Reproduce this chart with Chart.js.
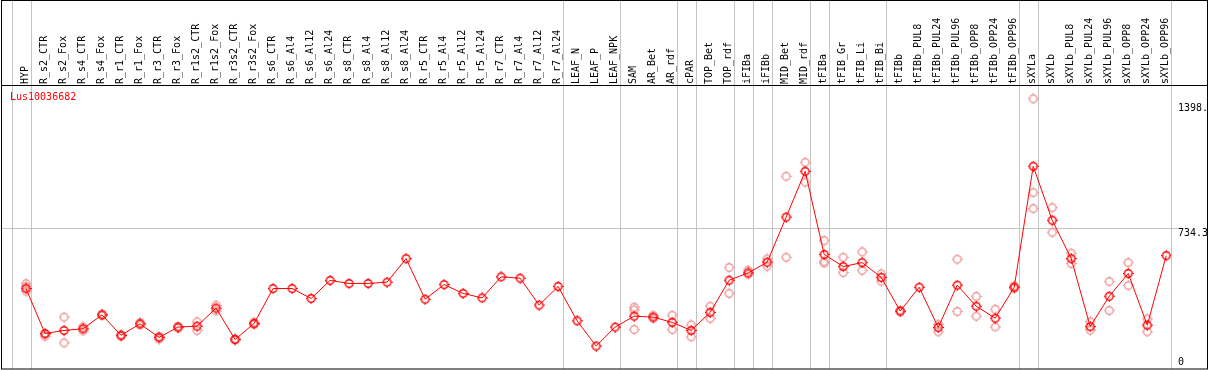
<!DOCTYPE html>
<html>
<head>
<meta charset="utf-8">
<script src="https://cdn.jsdelivr.net/npm/chart.js@4/dist/chart.umd.min.js"></script>
<style>
  html, body { margin: 0; padding: 0; background: #fff; }
</style>
</head>
<body>
<canvas id="expr" width="1209" height="370"></canvas>
<script>
// datos
const geneName = 'Lus10036682';

const samples = [
  'HYP',
  'R_s2_CTR', 'R_s2_Fox', 'R_s4_CTR', 'R_s4_Fox', 'R_r1_CTR', 'R_r1_Fox', 'R_r3_CTR', 'R_r3_Fox',
  'R_r1s2_CTR', 'R_r1s2_Fox', 'R_r3s2_CTR', 'R_r3s2_Fox',
  'R_s6_CTR', 'R_s6_Al4', 'R_s6_Al12', 'R_s6_Al24', 'R_s8_CTR', 'R_s8_Al4', 'R_s8_Al12', 'R_s8_Al24',
  'R_r5_CTR', 'R_r5_Al4', 'R_r5_Al12', 'R_r5_Al24', 'R_r7_CTR', 'R_r7_Al4', 'R_r7_Al12', 'R_r7_Al24',
  'LEAF_N', 'LEAF_P', 'LEAF_NPK',
  'SAM', 'AR_Bet', 'AR_rdf', 'cPAR', 'TOP_Bet', 'TOP_rdf', 'iFIBa', 'iFIBb', 'MID_Bet', 'MID_rdf',
  'tFIBa', 'tFIB_Gr', 'tFIB_Li', 'tFIB_Bi',
  'tFIBb', 'tFIBb_PUL8', 'tFIBb_PUL24', 'tFIBb_PUL96', 'tFIBb_OPP8', 'tFIBb_OPP24', 'tFIBb_OPP96',
  'sXYLa',
  'sXYLb', 'sXYLb_PUL8', 'sXYLb_PUL24', 'sXYLb_PUL96', 'sXYLb_OPP8', 'sXYLb_OPP24', 'sXYLb_OPP96'
];

// media de cada muestra
const meanValues = [
  414,
  175, 191, 200, 274, 165, 226, 154, 209,
  214, 310, 143, 228,
  414, 414, 361, 457, 441, 441, 448, 573,
  357, 435, 388, 364, 476, 469, 326, 425,
  242, 108, 209,
  267, 262, 234, 191, 287, 458, 497, 554, 794, 1037,
  595, 531, 552, 473,
  294, 421, 207, 432, 320, 256, 421,
  1064,
  777, 573, 212, 373, 494, 219, 589
];

// réplicas (círculos rosados)
const replicateValues = [
  [440, 425, 400],
  [170, 160], [262, 125], [210, 189], [278, 270], [168, 160], [232, 220], [160, 145], [212, 204],
  [237, 191], [325, 295], [146, 140], [235, 222],
  [], [], [], [], [], [], [], [],
  [], [], [], [], [], [], [], [],
  [], [], [],
  [315, 300, 196], [272, 255], [272, 196], [221, 157], [320, 255], [526, 388], [511, 490], [571, 533], [1011, 580], [1085, 980],
  [669, 556, 550], [580, 499], [609, 510], [492, 453],
  [298, 290], [], [223, 184], [570, 292], [372, 267], [304, 210], [428, 415],
  [1423, 924, 839],
  [844, 713], [602, 547], [237, 193], [451, 297], [552, 430], [253, 184], []
];

// última muestra de cada grupo (líneas grises verticales)
const groupEnds = ['HYP', 'R_r7_Al24', 'LEAF_NPK', 'AR_rdf', 'cPAR', 'TOP_rdf', 'iFIBa', 'iFIBb',
  'MID_rdf', 'tFIBa', 'tFIB_Bi', 'tFIBb_OPP96', 'sXYLa', 'sXYLb_OPP96'];

const yTicks = [0, 734.3, 1398];
const yTickLabels = ['0', '734.3', '1398.'];

const FONT = { family: 'DejaVu Sans Mono', size: 10 };
const GRID = '#c4c4c4';

const meanPoints = meanValues.map((v, i) => ({ x: i, y: v }));
const repPoints = [];
replicateValues.forEach((reps, i) => reps.forEach(v => repPoints.push({ x: i, y: v })));

const separators = [-0.75].concat(groupEnds.map(n => samples.indexOf(n) + 0.25));

// marcador: círculo con pequeñas muescas
function marker(color) {
  const c = document.createElement('canvas');
  c.width = 11; c.height = 11;
  const g = c.getContext('2d');
  g.strokeStyle = color;
  g.fillStyle = color;
  g.lineWidth = 1.4;
  g.beginPath(); g.arc(5.5, 5.5, 3.8, 0, Math.PI * 2); g.stroke();
  g.fillRect(5, 0, 1, 1);
  g.fillRect(5, 10, 1, 1);
  g.fillRect(0, 5, 1, 1);
  g.fillRect(10, 5, 1, 1);
  return c;
}

const framePlugin = {
  id: 'frame',
  beforeDatasetsDraw(chart) {
    const { ctx, chartArea, scales } = chart;
    ctx.save();
    ctx.strokeStyle = GRID;
    ctx.lineWidth = 1;
    separators.forEach(v => {
      const x = Math.round(scales.x.getPixelForValue(v)) + 0.5;
      ctx.beginPath(); ctx.moveTo(x, 0); ctx.lineTo(x, chartArea.bottom); ctx.stroke();
    });
    ctx.restore();
  },
  afterDraw(chart) {
    const { ctx, chartArea, width, height } = chart;
    ctx.save();
    ctx.strokeStyle = '#000';
    ctx.lineWidth = 1;
    ctx.strokeRect(1.5, 0.5, width - 3, height - 1.5);
    ctx.beginPath();
    ctx.moveTo(1, Math.round(chartArea.top) - 0.5);
    ctx.lineTo(width - 1, Math.round(chartArea.top) - 0.5);
    ctx.stroke();
    ctx.fillStyle = '#ff0000';
    ctx.font = '10px "DejaVu Sans Mono"';
    ctx.textBaseline = 'middle';
    ctx.fillText(geneName, 10, chartArea.top + 11);
    ctx.restore();
  }
};

new Chart(document.getElementById('expr'), {
  type: 'line',
  data: {
    datasets: [{
      label: geneName,
      data: meanPoints,
      order: 0,
      borderColor: '#ff0000',
      borderWidth: 1,
      pointStyle: marker('#ff0000'),
      pointRadius: 5,
      tension: 0
    }, {
      label: 'replicas',
      data: repPoints,
      order: 1,
      showLine: false,
      pointStyle: marker('#ef9a9a'),
      pointRadius: 5
    }]
  },
  options: {
    responsive: false,
    animation: false,
    devicePixelRatio: 1,
    layout: { autoPadding: false, padding: { left: 1, right: 0, top: 0, bottom: 1 } },
    plugins: { legend: { display: false }, tooltip: { enabled: false } },
    scales: {
      x: {
        type: 'linear',
        position: 'top',
        min: -1.316,
        max: 60.25,
        afterBuildTicks: s => { s.ticks = samples.map((_, i) => ({ value: i })); },
        afterFit: s => { s.height = 86; s.paddingLeft = 0; s.paddingRight = 0; },
        grid: { display: false, drawTicks: false },
        border: { display: false },
        ticks: {
          autoSkip: false,
          minRotation: 90,
          maxRotation: 90,
          padding: 2,
          labelOffset: 11,
          color: '#000',
          font: FONT,
          callback: v => samples[v]
        }
      },
      y: {
        type: 'linear',
        position: 'right',
        min: -14,
        max: 1491,
        afterBuildTicks: s => { s.ticks = yTicks.map(v => ({ value: v })); },
        afterFit: s => { s.width = 38; s.paddingTop = 0; s.paddingBottom = 0; },
        grid: {
          color: c => (c.tick && c.tick.value === 734.3 ? GRID : 'rgba(0,0,0,0)'),
          tickLength: 7
        },
        border: { display: false },
        ticks: {
          align: 'start',
          padding: 0,
          color: '#000',
          font: { family: 'DejaVu Sans Mono', size: 10, lineHeight: 1.8 },
          callback: (v, i) => (yTicks[i] === 0 ? [yTickLabels[i], ''] : yTickLabels[i])
        }
      }
    }
  },
  plugins: [framePlugin]
});
</script>
</body>
</html>
